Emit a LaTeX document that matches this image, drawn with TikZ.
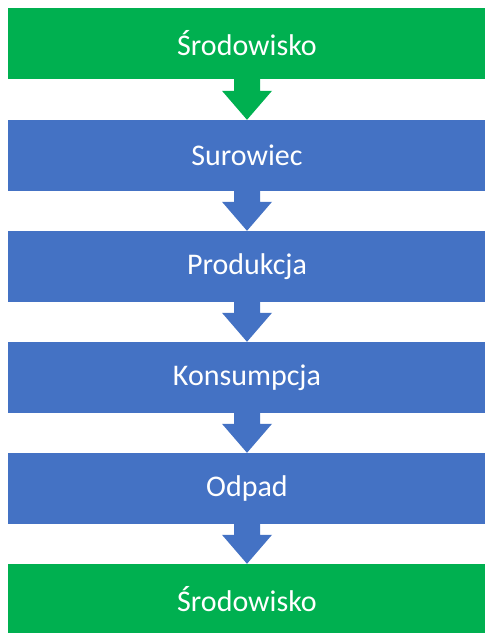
\documentclass[tikz,border=0pt]{standalone}
\usepackage{fontspec}
\setmainfont{Carlito}
\usetikzlibrary{calc}
\definecolor{envgreen}{HTML}{00B050}
\definecolor{stepblue}{HTML}{4472C4}
\tikzset{
  box/.style={rectangle, inner sep=0pt, minimum width=478pt, minimum height=71pt,
    text=white, font=\fontsize{30}{36}\selectfont},
  greenbox/.style={box, fill=envgreen},
  bluebox/.style={box, fill=stepblue},
}
\newcommand{\blockarrow}[3]{%
  \fill[#3] ($(#1.south)+(-13,0)$) -- ($(#1.south)+(13,0)$) -- ($(#2.north)+(13,-29)$)
    -- ($(#2.north)+(25,-29)$) -- (#2.north) -- ($(#2.north)+(-25,-29)$)
    -- ($(#2.north)+(-13,-29)$) -- cycle;}
\begin{document}
\begin{tikzpicture}[x=1pt,y=-1pt]
\clip (0,0) rectangle (485,633);
\fill[white] (0,0) rectangle (485,633);
\node[greenbox] (s1) at (247,43.5) {Środowisko};
\node[bluebox] (sur) at (247,155.5) {Surowiec};
\node[bluebox] (pro) at (247,266.5) {Produkcja};
\node[bluebox] (kon) at (247,377.5) {Konsumpcja};
\node[bluebox] (odp) at (247,488.5) {Odpad};
\node[greenbox] (s2) at (247,599.5) {Środowisko};
\blockarrow{s1}{sur}{envgreen}
\blockarrow{sur}{pro}{stepblue}
\blockarrow{pro}{kon}{stepblue}
\blockarrow{kon}{odp}{stepblue}
\blockarrow{odp}{s2}{stepblue}
\end{tikzpicture}
\end{document}
